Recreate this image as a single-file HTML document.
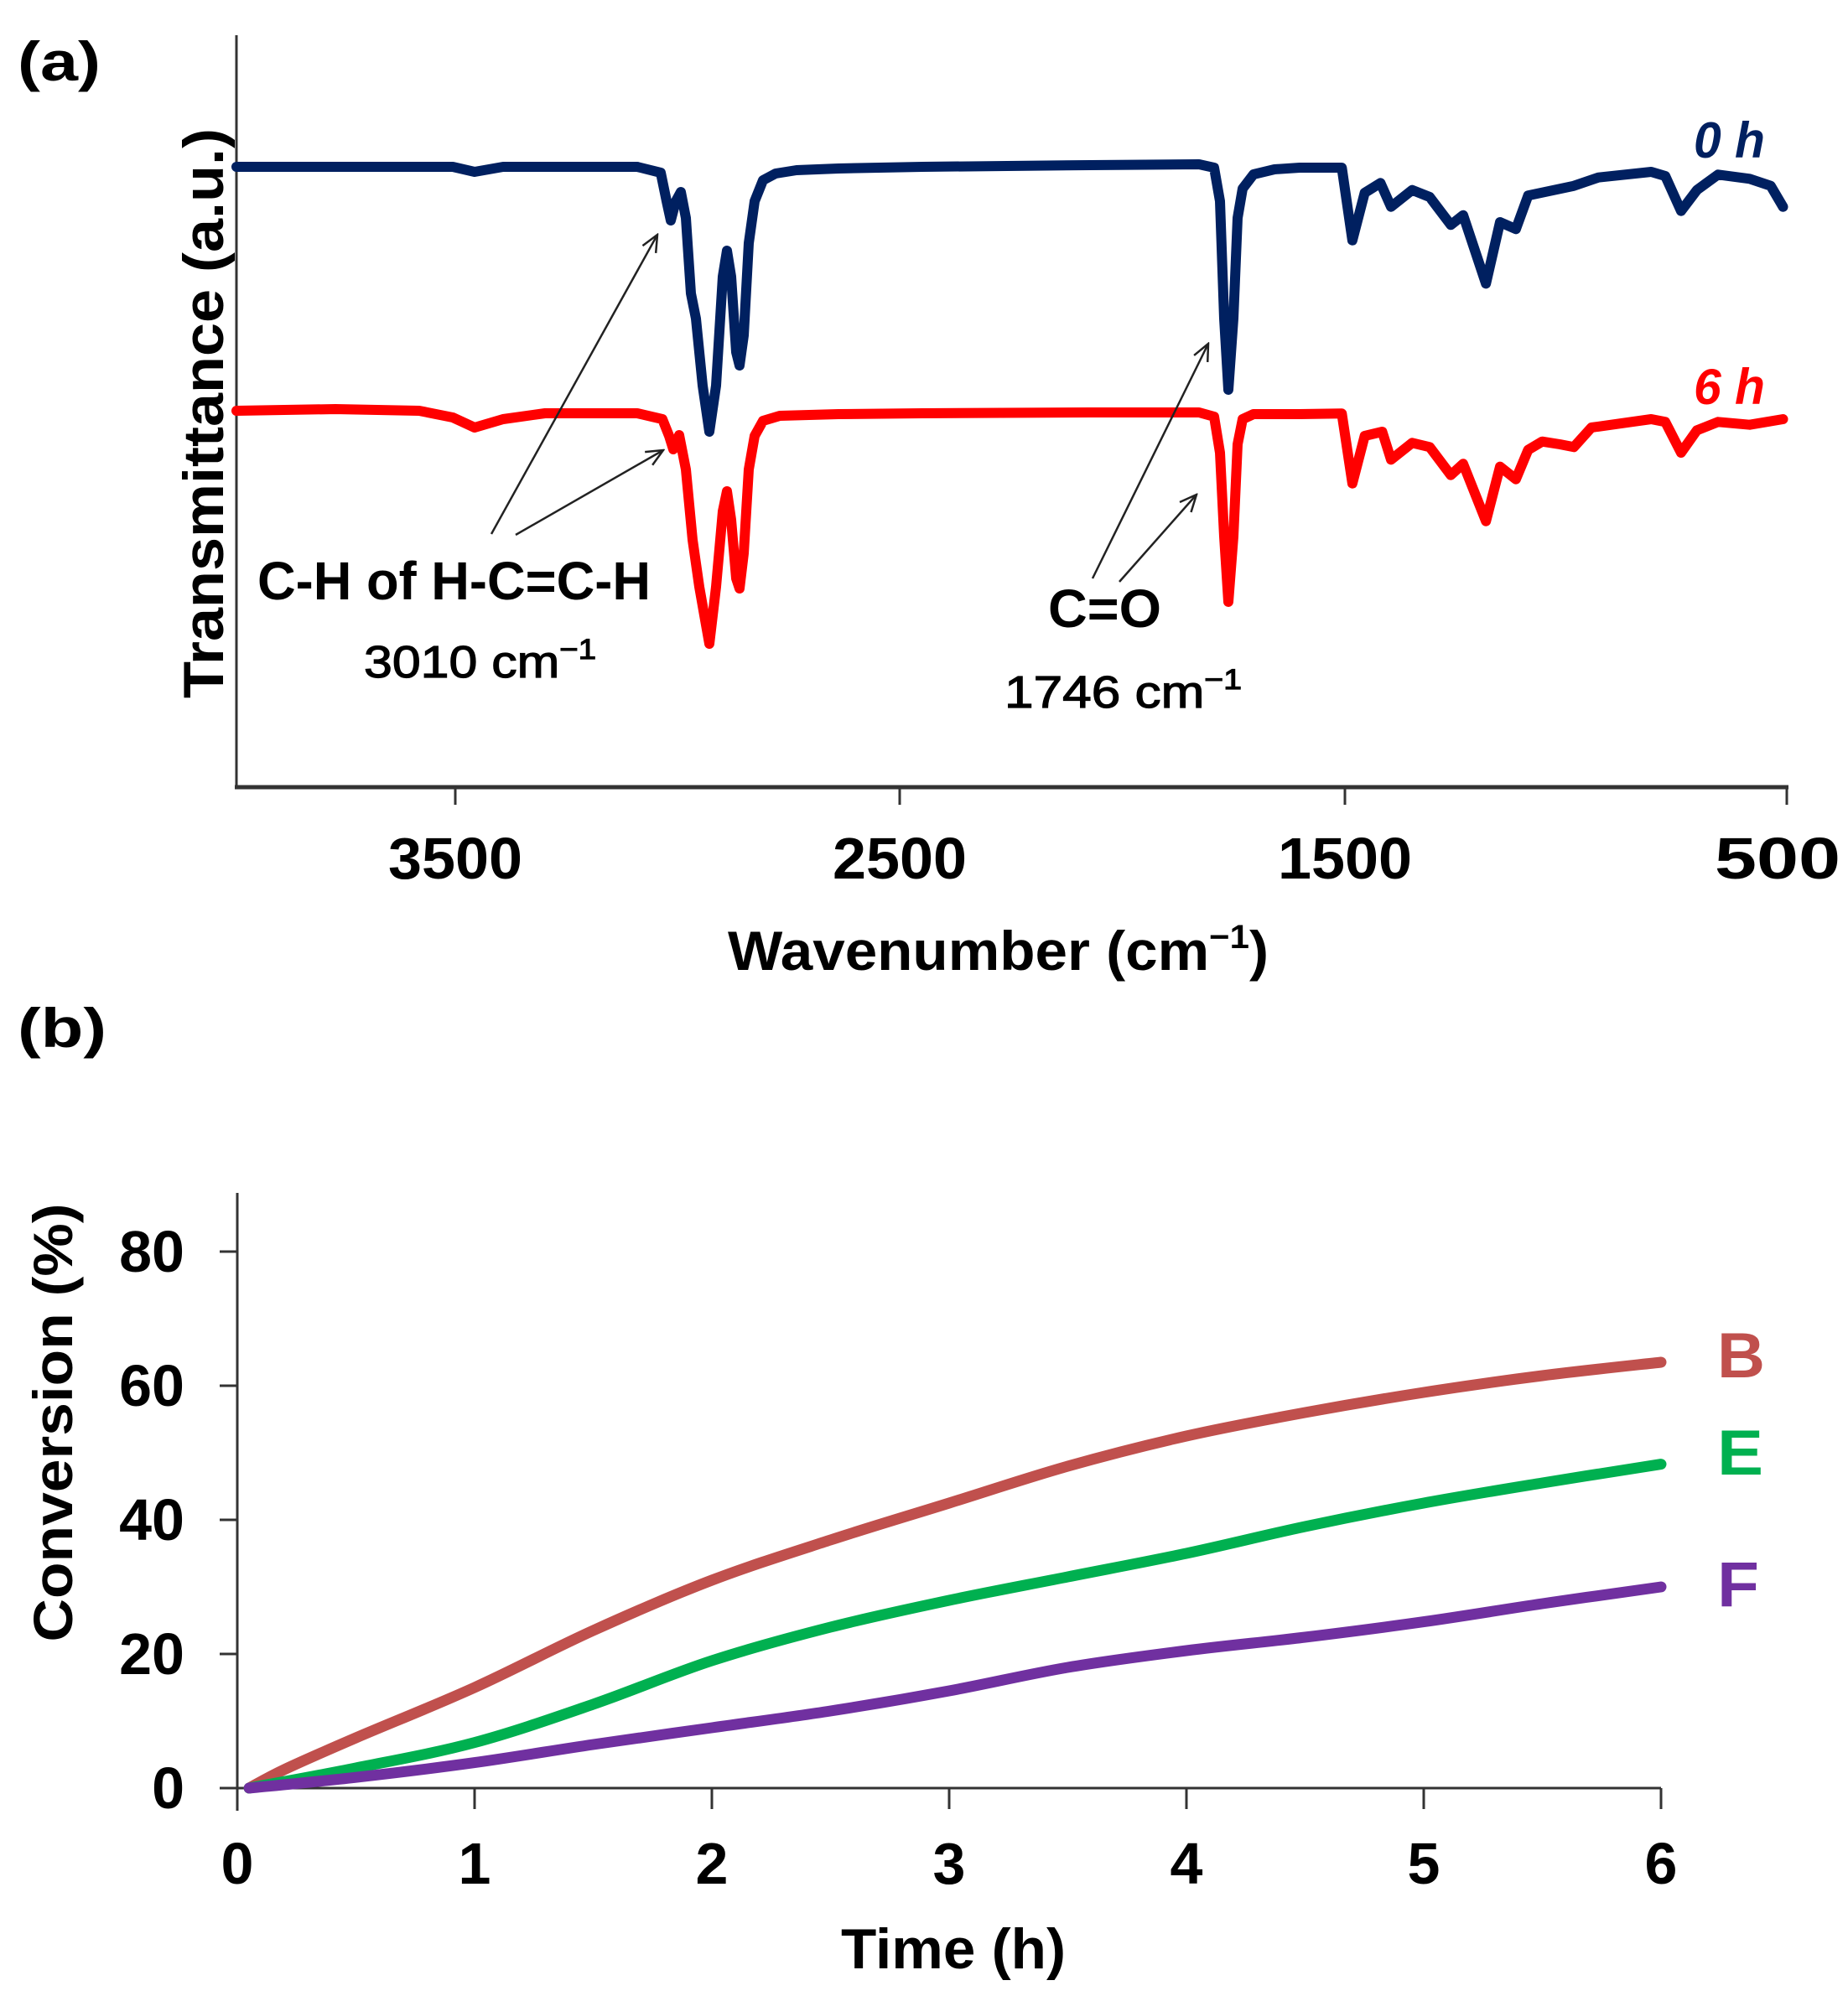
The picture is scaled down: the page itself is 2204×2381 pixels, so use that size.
<!DOCTYPE html>
<html><head><meta charset="utf-8"><style>
html,body{margin:0;padding:0;background:#fff}
svg{display:block}
text{font-family:"Liberation Sans",sans-serif;font-weight:bold;fill:#000}
</style></head><body>
<svg id="s" xmlns="http://www.w3.org/2000/svg" width="2204" height="2381" viewBox="0 0 2204 2381">
<rect width="2204" height="2381" fill="#fff"/>
<defs><marker id="ar" markerWidth="24" markerHeight="24" refX="22" refY="12" orient="auto" markerUnits="userSpaceOnUse"><path d="M2,3 L22,12 L2,21" fill="none" stroke="#222" stroke-width="2.5"/></marker></defs>
<text x="21" y="96" font-size="66" textLength="99" lengthAdjust="spacingAndGlyphs">(a)</text>
<line x1="282" y1="42" x2="282" y2="940" stroke="#333" stroke-width="3"/>
<line x1="280" y1="939" x2="2133" y2="939" stroke="#333" stroke-width="5"/>
<g stroke="#333" stroke-width="3"><line x1="543" y1="939" x2="543" y2="960"/><line x1="1073" y1="939" x2="1073" y2="960"/><line x1="1604" y1="939" x2="1604" y2="960"/><line x1="2131" y1="939" x2="2131" y2="960"/></g>
<g font-size="70" text-anchor="middle">
<text x="543" y="1048" textLength="160" lengthAdjust="spacingAndGlyphs">3500</text>
<text x="1073" y="1048" textLength="160" lengthAdjust="spacingAndGlyphs">2500</text>
<text x="1604" y="1048" textLength="160" lengthAdjust="spacingAndGlyphs">1500</text>
<text x="2120" y="1048" textLength="150" lengthAdjust="spacingAndGlyphs">500</text>
</g>
<text x="868" y="1157" font-size="66" textLength="645" lengthAdjust="spacingAndGlyphs">Wavenumber (cm<tspan dy="-26" font-size="40">−1</tspan><tspan dy="26">)</tspan></text>
<text transform="translate(266,493) rotate(-90)" x="0" y="0" font-size="68" text-anchor="middle" textLength="680" lengthAdjust="spacingAndGlyphs">Transmittance (a.u.)</text>
<path id="blue" fill="none" stroke="#002060" stroke-width="12" stroke-linejoin="round" stroke-linecap="round"/>
<path id="red" fill="none" stroke="#ff0000" stroke-width="12" stroke-linejoin="round" stroke-linecap="round"/>
<text x="2020" y="188" font-size="60" font-style="italic" style="fill:#002060" textLength="85" lengthAdjust="spacingAndGlyphs">0 h</text>
<text x="2020" y="482" font-size="60" font-style="italic" style="fill:#ff0000" textLength="85" lengthAdjust="spacingAndGlyphs">6 h</text>
<g stroke="#222" stroke-width="2.5" marker-end="url(#ar)">
<line x1="586" y1="637" x2="784" y2="280"/><line x1="615" y1="638" x2="791" y2="537"/>
<line x1="1303" y1="690" x2="1441" y2="410"/><line x1="1335" y1="694" x2="1427" y2="590"/>
</g>
<text x="307" y="715" font-size="64" textLength="469" lengthAdjust="spacingAndGlyphs">C-H of H-C=C-H</text>
<text x="434" y="808" font-size="54" style="font-weight:normal;stroke:#000;stroke-width:1.2" textLength="277" lengthAdjust="spacingAndGlyphs">3010 cm<tspan dy="-22" font-size="34">−1</tspan></text>
<text x="1250" y="748" font-size="64" textLength="135" lengthAdjust="spacingAndGlyphs">C=O</text>
<text x="1198" y="844" font-size="54" style="font-weight:normal;stroke:#000;stroke-width:1.2" textLength="283" lengthAdjust="spacingAndGlyphs">1746 cm<tspan dy="-22" font-size="34">−1</tspan></text>
<text x="21" y="1249" font-size="66" textLength="106" lengthAdjust="spacingAndGlyphs">(b)</text>
<line x1="283" y1="1423" x2="283" y2="2160" stroke="#333" stroke-width="3"/>
<line x1="262" y1="2133" x2="1981" y2="2133" stroke="#333" stroke-width="3"/>
<g id="ticks" stroke="#333" stroke-width="3"></g>
<g id="tl" font-size="70"></g>
<text x="1003" y="2348" font-size="68" textLength="268" lengthAdjust="spacingAndGlyphs">Time (h)</text>
<text transform="translate(86,1697) rotate(-90)" x="0" y="0" font-size="66" text-anchor="middle" textLength="523" lengthAdjust="spacingAndGlyphs">Conversion (%)</text>
<path id="cB" fill="none" stroke="#c0504d" stroke-width="13" stroke-linecap="round"/>
<path id="cE" fill="none" stroke="#00b050" stroke-width="13" stroke-linecap="round"/>
<path id="cF" fill="none" stroke="#7030a0" stroke-width="13" stroke-linecap="round"/>
<text x="2048" y="1643" font-size="76" style="fill:#c0504d" textLength="57" lengthAdjust="spacingAndGlyphs">B</text>
<text x="2048" y="1759" font-size="76" style="fill:#00b050" textLength="55" lengthAdjust="spacingAndGlyphs">E</text>
<text x="2048" y="1916" font-size="76" style="fill:#7030a0" textLength="50" lengthAdjust="spacingAndGlyphs">F</text>
</svg>
<script>
var NS="http://www.w3.org/2000/svg";
var bMain=[[282,199],[540,199],[566,205],[600,199],[760,199],[788,206],[795,240],[800,263],[806,240],[812,229],[818,260],[824,350],[830,380],[838,460],[846,515],[854,460],[862,330],[867,299],[872,330],[878,420],[882,436],[887,400],[893,290],[900,240],[910,215],[925,207],[950,203],[1000,201],[1100,199],[1300,197],[1430,196],[1448,200],[1455,240],[1460,380],[1465,465],[1471,380],[1476,260],[1482,225],[1495,208],[1520,202],[1550,200]];
var bF=[[120,150],[150,410],[185,240],[230,205],[260,290],[320,230],[370,255],[430,355],[465,320],[530,565],[570,345],[615,370],[650,250],[780,215],[850,185],[1000,165],[1040,180],[1085,305],[1130,230],[1190,175],[1280,190],[1340,215],[1375,290]];
var rMain=[[282,490],[400,488],[500,490],[540,498],[566,510],[600,500],[650,493],[760,493],[790,500],[798,520],[803,536],[810,519],[818,560],[826,644],[834,700],[846,768],[854,700],[862,610],[867,586],[872,620],[878,690],[882,702],[887,660],[893,560],[900,520],[910,502],[930,496],[1000,494],[1100,493],[1300,492],[1430,492],[1448,497],[1455,540],[1460,640],[1465,718],[1471,640],[1476,530],[1482,500],[1495,494],[1550,494]];
var rF=[[120,1030],[150,1280],[185,1110],[235,1095],[260,1195],[320,1135],[370,1150],[430,1250],[465,1210],[530,1415],[570,1220],[615,1265],[650,1160],[690,1130],[740,1140],[780,1150],[830,1080],[1000,1050],[1040,1060],[1085,1170],[1130,1090],[1190,1060],[1280,1070],[1375,1050]];
function tf(a){return a.map(function(p){return [1550+p[0]/2.385,150+p[1]/3];});}
function poly(a){return "M"+a.map(function(p){return p[0].toFixed(1)+","+p[1].toFixed(1);}).join(" L");}
document.getElementById("blue").setAttribute("d",poly(bMain.concat(tf(bF))));
document.getElementById("red").setAttribute("d",poly(rMain.concat(tf(rF))));
function X(t){return 283+t*283;} function Y(v){return 2133-v*8;}
function spline(d){var p=d.map(function(q){return [X(q[0]),Y(q[1])];});var s="M"+p[0][0]+","+p[0][1];
for(var i=0;i<p.length-1;i++){var p0=p[Math.max(i-1,0)],p1=p[i],p2=p[i+1],p3=p[Math.min(i+2,p.length-1)];
s+=" C"+(p1[0]+(p2[0]-p0[0])/6)+","+(p1[1]+(p2[1]-p0[1])/6)+" "+(p2[0]-(p3[0]-p1[0])/6)+","+(p2[1]-(p3[1]-p1[1])/6)+" "+p2[0]+","+p2[1];}return s;}
var B=[[0.05,0],[0.2,2.8],[0.5,7.5],[1,15],[1.5,23.5],[2,31],[2.5,37],[3,42.5],[3.5,48],[4,52.5],[4.5,56],[5,59],[5.5,61.5],[6,63.5]];
var E=[[0.05,0],[0.5,3],[1,6.8],[1.5,12.5],[2,19],[2.5,24],[3,28],[3.5,31.5],[4,35],[4.5,39],[5,42.5],[5.5,45.5],[6,48.3]];
var F=[[0.05,0],[0.5,1.6],[1,3.8],[1.5,6.5],[2,9],[2.5,11.5],[3,14.5],[3.5,18],[4,20.5],[4.5,22.5],[5,24.8],[5.5,27.5],[6,30]];
document.getElementById("cB").setAttribute("d",spline(B));
document.getElementById("cE").setAttribute("d",spline(E));
document.getElementById("cF").setAttribute("d",spline(F));
var tk=document.getElementById("ticks"),tl=document.getElementById("tl");
function el(n,a,p,t){var e=document.createElementNS(NS,n);for(var k in a)e.setAttribute(k,a[k]);if(t!==undefined)e.textContent=t;p.appendChild(e);}
for(var i=0;i<=6;i++){var x=X(i);el("line",{x1:x,y1:2133,x2:x,y2:2158},tk);el("text",{x:x,y:2247,"text-anchor":"middle"},tl,""+i);}
for(var v=0;v<=80;v+=20){var y=Y(v);el("line",{x1:262,y1:y,x2:283,y2:y},tk);el("text",{x:220,y:y+24,"text-anchor":"end"},tl,""+v);}
</script>
</body></html>
